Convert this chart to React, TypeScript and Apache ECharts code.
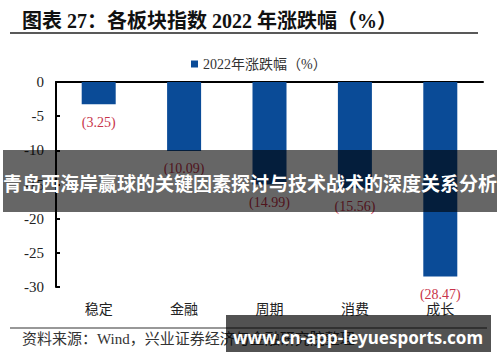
import React, { useEffect, useRef } from "react";
import * as echarts from "echarts";

const categories = ["稳定", "金融", "周期", "消费", "成长"];
const values = [-3.25, -10.09, -14.99, -15.56, -28.47];
const seriesName = "2022年涨跌幅（%）";
const titleText = "图表 27：各板块指数 2022 年涨跌幅（%）";
const sourceText = "资料来源：Wind，兴业证券经济与金融研究院整理";
const bannerText = "青岛西海岸赢球的关键因素探讨与技术战术的深度关系分析";
const watermarkText = "www.cn-app-leyuesports.com";

const SERIF = "'Liberation Serif', 'Times New Roman', 'Noto Sans CJK SC', serif";
const CJK = "'Noto Sans CJK SC', 'Liberation Serif', sans-serif";

export default function App() {
  const ref = useRef<HTMLDivElement>(null);
  useEffect(() => {
    if (!ref.current) return;
    const chart = echarts.init(ref.current, undefined, { renderer: "svg" });
    chart.setOption({
      animation: false,
      backgroundColor: "#ffffff",
      grid: { left: 56, right: 17, top: 82, bottom: 75, containLabel: false },
      legend: {
        data: [seriesName],
        left: 186,
        top: 52,
        icon: "rect",
        itemWidth: 7,
        itemHeight: 7,
        textStyle: { fontFamily: SERIF, fontSize: 14, color: "#333" },
      },
      xAxis: [
        {
          type: "category",
          data: categories,
          position: "bottom",
          axisLine: { show: false },
          axisTick: { show: false },
          axisLabel: { margin: 14, fontSize: 14, fontFamily: CJK, color: "#222" },
        },
        {
          type: "category",
          data: categories,
          position: "top",
          axisLine: { show: true, onZero: false, lineStyle: { color: "#000", width: 2 } },
          axisTick: { show: false },
          axisLabel: { show: false },
        },
      ],
      yAxis: {
        type: "value",
        min: -30,
        max: 0,
        interval: 5,
        axisLine: { show: true, lineStyle: { color: "#000", width: 2 } },
        axisTick: { show: true, inside: true, length: 4, lineStyle: { color: "#000", width: 2 } },
        splitLine: { show: false },
        axisLabel: { margin: 12, fontSize: 15, fontFamily: SERIF, color: "#222" },
      },
      series: [
        {
          name: seriesName,
          type: "bar",
          data: values,
          barWidth: 34,
          itemStyle: { color: "#0a4b97" },
          label: {
            show: true,
            position: "bottom",
            distance: 11,
            fontFamily: SERIF,
            fontSize: 14,
            color: "#c8344a",
            formatter: (p: any) => "(" + Math.abs(p.value).toFixed(2) + ")",
          },
        },
      ],
      graphic: [
        {
          type: "text",
          left: 22,
          top: 11,
          style: { text: titleText, font: "bold 20px " + SERIF, fill: "#111" },
        },
        {
          type: "line",
          shape: { x1: 10, y1: 33, x2: 478, y2: 33 },
          style: { stroke: "#222", lineWidth: 1.5 },
        },
        {
          type: "line",
          shape: { x1: 10, y1: 328, x2: 487, y2: 328 },
          style: { stroke: "#333", lineWidth: 1.2 },
        },
        {
          type: "text",
          x: 22,
          y: 339,
          style: { text: sourceText, font: "15px " + SERIF, fill: "#333", verticalAlign: "middle" },
        },
        {
          type: "rect",
          z: 100,
          shape: { x: 3, y: 150, width: 494, height: 62 },
          style: { fill: "rgba(0,0,0,0.6)" },
        },
        {
          type: "text",
          z: 101,
          x: 250,
          y: 182,
          style: {
            text: bannerText,
            font: "bold 19px 'Noto Sans CJK SC', sans-serif",
            fill: "#ffffff",
            align: "center",
            verticalAlign: "middle",
          },
        },
        {
          type: "rect",
          z: 100,
          shape: { x: 226, y: 315, width: 265, height: 37 },
          style: { fill: "rgba(0,0,0,0.68)" },
        },
        {
          type: "text",
          z: 101,
          x: 358,
          y: 337,
          style: {
            text: watermarkText,
            font: "bold 17px 'Noto Sans', 'Open Sans', sans-serif",
            fill: "#ffffff",
            align: "center",
            verticalAlign: "middle",
          },
        },
      ],
    });
    return () => chart.dispose();
  }, []);
  return (
    <div
      ref={ref}
      style={{ position: "fixed", left: 0, top: 0, width: 500, height: 362, background: "#fff" }}
    />
  );
}
